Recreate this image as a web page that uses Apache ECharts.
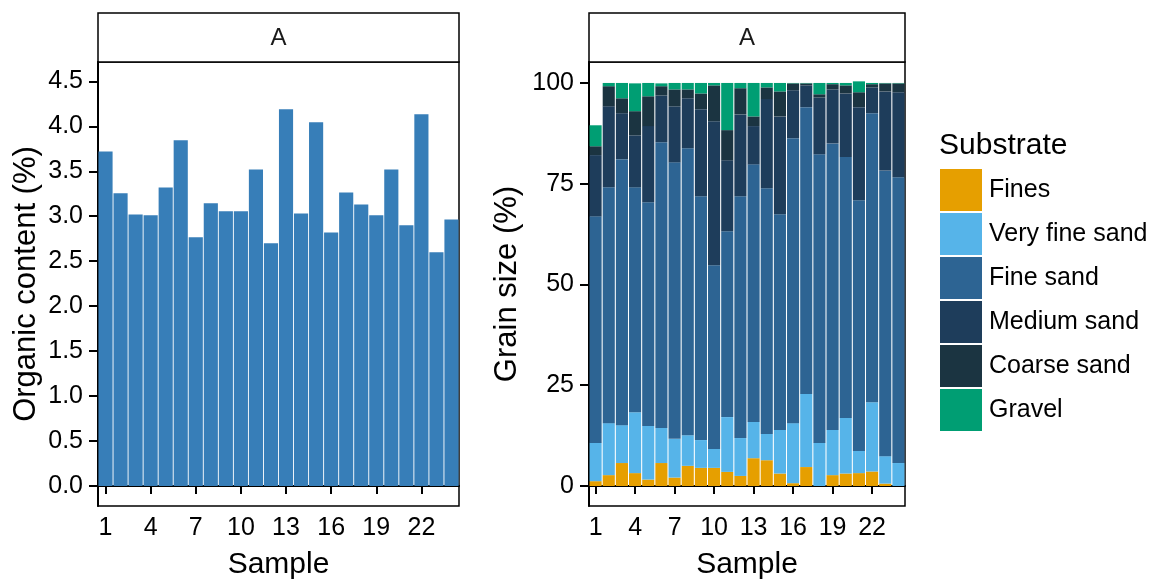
<!DOCTYPE html>
<html>
<head>
<meta charset="utf-8">
<script src="https://cdn.jsdelivr.net/npm/echarts@6/dist/echarts.min.js"></script>
<style>
html,body{margin:0;padding:0;background:#fff;}
#chart{width:1158px;height:580px;}
</style>
</head>
<body>
<div id="chart"></div>
<script>
const samples = ['1','2','3','4','5','6','7','8','9','10','11','12','13','14','15','16','17','18','19','20','21','22','23','24'];
const organic = [3.72,3.255,3.02,3.01,3.32,3.845,2.765,3.145,3.055,3.055,3.52,2.70,4.19,3.03,4.045,2.82,3.265,3.13,3.01,3.52,2.90,4.135,2.60,2.965];

const fines        = [1.2,2.7,5.7,3.2,1.6,5.7,2.1,5.0,4.5,4.5,3.5,2.5,6.9,6.4,3.1,0.7,4.7,0.0,2.7,3.1,3.2,3.6,0.6,0.0];
const veryFineSand = [9.5,12.9,9.4,15.1,13.3,8.7,9.6,7.6,6.9,4.7,13.6,9.4,9.0,6.5,10.8,14.9,18.1,10.7,11.2,13.8,5.5,17.2,6.8,5.7];
const fineSand     = [56.2,58.5,66.0,55.8,55.5,70.9,68.6,71.2,60.5,45.6,46.1,60.0,63.9,61.0,53.5,70.7,71.2,71.6,71.1,64.7,62.2,71.7,70.9,70.9];
const mediumSand   = [15.2,20.1,11.4,12.9,18.9,11.6,13.9,12.4,21.6,35.7,17.6,20.3,9.5,22.1,24.3,11.9,5.4,14.1,13.4,15.8,23.1,6.4,19.6,21.1];
const coarseSand   = [2.2,5.0,3.7,6.0,7.4,2.3,4.2,2.2,3.9,8.9,7.5,6.5,2.4,2.9,6.2,1.7,0.5,0.8,1.3,2.0,3.7,0.8,2.0,2.2];
const gravel       = [5.2,0.8,3.8,6.9,3.3,0.7,1.6,1.6,2.6,0.6,11.7,1.3,8.3,1.1,2.1,0.1,0.1,2.8,0.3,0.6,2.7,0.3,0.1,0.1];

const substrateNames = ['Fines','Very fine sand','Fine sand','Medium sand','Coarse sand','Gravel'];
const substrateColors = ['#E69F00','#56B4E9','#2D6493','#1E3D5B','#1B3441','#009E73'];
const substrateData = [fines, veryFineSand, fineSand, mediumSand, coarseSand, gravel];

const organicTicks = [0,0.5,1,1.5,2,2.5,3,3.5,4,4.5];
const grainTicks = [0,25,50,75,100];

const FONT = 'Liberation Sans, Arial, sans-serif';
const chart = echarts.init(document.getElementById('chart'), null, {renderer:'canvas'});

function xAxisDef(gridIndex){
  return {
    type:'category', gridIndex, data: samples,
    boundaryGap:true,
    axisLine:{show:true, lineStyle:{color:'#000', width:2}},
    axisTick:{show:true, alignWithLabel:true, interval:2, length:8, lineStyle:{color:'#000', width:2}},
    axisLabel:{interval:2, color:'#000', fontSize:25, fontFamily:FONT, margin:10},
    splitLine:{show:false},
    name:'Sample', nameLocation:'middle', nameGap:44,
    nameTextStyle:{fontSize:30, fontFamily:FONT, color:'#000'}
  };
}

const series = [{
  type:'bar', xAxisIndex:0, yAxisIndex:0, data: organic,
  barCategoryGap:'6%', itemStyle:{color:'#377EB8'}, silent:true
}];
substrateData.forEach((d,i)=>{
  series.push({
    type:'bar', name: substrateNames[i], xAxisIndex:1, yAxisIndex:1, stack:'grain',
    data:d, barCategoryGap:'8%', itemStyle:{color:substrateColors[i], borderWidth:0}, silent:true
  });
});

chart.setOption({
  animation:false,
  backgroundColor:'#fff',
  textStyle:{fontFamily:FONT},
  grid:[
    {left:98, top:62, width:361, height:444, show:true, borderColor:'#000', borderWidth:1.5, containLabel:false, outerBoundsMode:'none'},
    {left:589, top:62, width:316, height:444, show:true, borderColor:'#000', borderWidth:1.5, containLabel:false, outerBoundsMode:'none'}
  ],
  xAxis:[xAxisDef(0), xAxisDef(1)],
  yAxis:[
    {type:'value', gridIndex:0, min:-0.222, max:4.715,
     axisLine:{show:true, lineStyle:{color:'#000', width:2}},
     axisTick:{show:true, length:9, lineStyle:{color:'#000', width:2}, customValues: organicTicks},
     axisLabel:{color:'#000', fontSize:25, fontFamily:FONT, margin:15, customValues: organicTicks,
                formatter: v => Number(v).toFixed(1)},
     splitLine:{show:false},
     name:'Organic content (%)', nameLocation:'middle', nameGap:56, nameRotate:90,
     nameTextStyle:{fontSize:31, fontFamily:FONT, color:'#000'}},
    {type:'value', gridIndex:1, min:-4.96, max:105.2,
     axisLine:{show:true, lineStyle:{color:'#000', width:2}},
     axisTick:{show:true, length:9, lineStyle:{color:'#000', width:2}, customValues: grainTicks},
     axisLabel:{color:'#000', fontSize:25, fontFamily:FONT, margin:15, customValues: grainTicks},
     splitLine:{show:false},
     name:'Grain size (%)', nameLocation:'middle', nameGap:66, nameRotate:90,
     nameTextStyle:{fontSize:31, fontFamily:FONT, color:'#000'}}
  ],
  legend:{
    show:true, orient:'vertical', left:940, top:169, padding:0,
    itemWidth:42, itemHeight:42, itemGap:2, icon:'rect',
    data: substrateNames,
    textStyle:{fontSize:25, fontFamily:FONT, color:'#000', padding:[0,0,0,2]},
    selectedMode:false
  },
  graphic:[
    {type:'rect', shape:{x:98, y:13, width:361, height:49}, style:{fill:'#fff', stroke:'#000', lineWidth:1.5}},
    {type:'text', x:278.5, y:38, style:{text:'A', fontSize:24, fontFamily:FONT, fill:'#1a1a1a', align:'center', verticalAlign:'middle'}},
    {type:'rect', shape:{x:589, y:13, width:316, height:49}, style:{fill:'#fff', stroke:'#000', lineWidth:1.5}},
    {type:'text', x:747, y:38, style:{text:'A', fontSize:24, fontFamily:FONT, fill:'#1a1a1a', align:'center', verticalAlign:'middle'}},
    {type:'text', x:939, y:146, style:{text:'Substrate', fontSize:30, fontFamily:FONT, fill:'#000', align:'left', verticalAlign:'middle'}}
  ],
  series
});
</script>
</body>
</html>
